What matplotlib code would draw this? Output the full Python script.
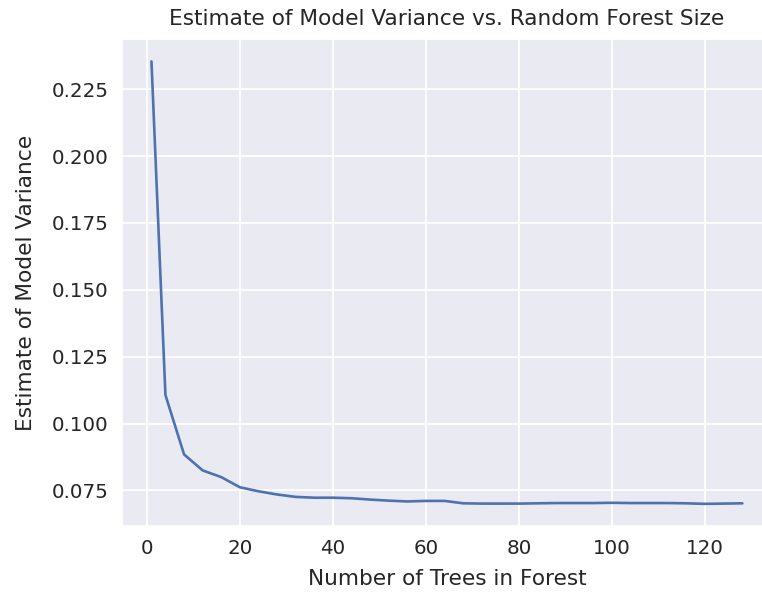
import numpy as np
import matplotlib
matplotlib.use("Agg")
import matplotlib.pyplot as plt
import seaborn as sns

# number of trees in the forest
n_trees = [1, 4, 8, 12, 16, 20, 24, 28, 32, 36, 40, 44, 48, 52, 56, 60, 64,
           68, 72, 76, 80, 84, 88, 92, 96, 100, 104, 108, 112, 116, 120, 124, 128]

# estimated model variance
variance = [0.2354, 0.1107, 0.0885, 0.0825, 0.0800, 0.0762, 0.0747, 0.0735,
            0.0726, 0.0723, 0.0723, 0.0721, 0.0716, 0.0712, 0.0709, 0.0711,
            0.0711, 0.0702, 0.0701, 0.0701, 0.0701, 0.0702, 0.0703, 0.0703,
            0.0703, 0.0704, 0.0703, 0.0703, 0.0703, 0.0702, 0.0700, 0.0701,
            0.0702]

sns.set_theme(font_scale=1.3)

fig = plt.figure(figsize=(7.62, 5.95), dpi=100)
ax = fig.add_axes([0.160, 0.116, 0.853, 0.818])

ax.plot(n_trees, variance, linewidth=1.9)

ax.set_title("Estimate of Model Variance vs. Random Forest Size", pad=10)
ax.set_xlabel("Number of Trees in Forest", labelpad=8)
ax.set_ylabel("Estimate of Model Variance", labelpad=11)
ax.set_yticks([0.075, 0.100, 0.125, 0.150, 0.175, 0.200, 0.225])
ax.grid(linewidth=1.3)

fig.savefig("out.png", dpi=100)
